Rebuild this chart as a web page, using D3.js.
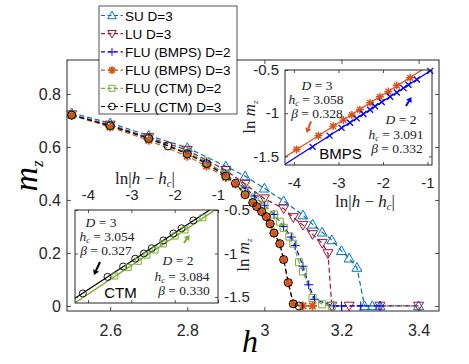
<!DOCTYPE html>
<html><head><meta charset="utf-8">
<script src="https://cdn.jsdelivr.net/npm/d3@7"></script>
<style>body{margin:0;background:#fff} svg{display:block}</style>
</head><body>
<svg id="c" width="469" height="364"></svg>
<script>
// ---------------- DATA ----------------
const legendNames = ["SU D=3", "LU D=3", "FLU (BMPS) D=2", "FLU (BMPS) D=3", "FLU (CTM) D=2", "FLU (CTM) D=3"];

const hSU = [2.5, 2.6, 2.7, 2.8, 2.9, 2.95, 3.0, 3.05, 3.1, 3.125, 3.15, 3.175, 3.2, 3.22, 3.24, 3.26, 3.28, 3.3, 3.4];
const mSU = [0.728, 0.69, 0.643, 0.597, 0.527, 0.49, 0.444, 0.396, 0.343, 0.308, 0.278, 0.249, 0.208, 0.18, 0.145, 0, 0, 0, 0];

const hLU = [2.5, 2.6, 2.7, 2.8, 2.9, 2.95, 3.0, 3.05, 3.075, 3.1, 3.125, 3.15, 3.165, 3.175, 3.22, 3.3, 3.4];
const mLU = [0.722, 0.683, 0.636, 0.588, 0.512, 0.46, 0.405, 0.367, 0.334, 0.305, 0.27, 0.237, 0.198, 0, 0, 0, 0];

const hB2 = [2.5, 2.6, 2.7, 2.8, 2.85, 2.9, 2.95, 2.975, 3.0, 3.025, 3.05, 3.07, 3.08, 3.1, 3.115, 3.13, 3.18, 3.2, 3.25, 3.3];
const mB2 = [0.72, 0.68, 0.633, 0.576, 0.543, 0.495, 0.445, 0.415, 0.38, 0.345, 0.3, 0.26, 0.228, 0.15, 0.08, 0.025, 0, 0, 0, 0];

const hB3 = [2.5, 2.6, 2.7, 2.8, 2.85, 2.9, 2.925, 2.95, 2.97, 2.98, 2.993, 3.005, 3.015, 3.025, 3.04, 3.05, 3.062, 3.075, 3.1, 3.125];
const mB3 = [0.72, 0.675, 0.625, 0.565, 0.528, 0.485, 0.46, 0.42, 0.39, 0.375, 0.356, 0.337, 0.31, 0.275, 0.235, 0.175, 0.088, 0.008, 0, 0];

const hC2 = [2.5, 2.6, 2.7, 2.8, 2.85, 2.9, 2.95, 2.975, 3.0, 3.025, 3.04, 3.05, 3.065, 3.075, 3.09, 3.1, 3.125, 3.15, 3.175];
const mC2 = [0.72, 0.68, 0.633, 0.578, 0.545, 0.495, 0.44, 0.41, 0.38, 0.345, 0.318, 0.295, 0.262, 0.235, 0.165, 0.13, 0.03, 0.006, 0];

const hC3 = [2.5, 2.6, 2.7, 2.75, 2.8, 2.85, 2.9, 2.925, 2.95, 2.97, 2.98, 2.993, 3.005, 3.015, 3.025, 3.04, 3.05, 3.062, 3.075, 3.09];
const mC3 = [0.72, 0.68, 0.632, 0.604, 0.574, 0.537, 0.49, 0.463, 0.42, 0.39, 0.375, 0.356, 0.337, 0.31, 0.275, 0.235, 0.175, 0.088, 0.008, 0];

const xTicks = [2.6, 2.8, 3, 3.2, 3.4];
const xTickLabels = ["2.6", "2.8", "3", "3.2", "3.4"];
const yTicks = [0, 0.2, 0.4, 0.6, 0.8];
const yTickLabels = ["0", "0.2", "0.4", "0.6", "0.8"];

// inset BMPS
const tBM3 = [-3.94, -3.45, -3.12, -2.89, -2.70, -2.52, -2.29, -2.07, -1.88, -1.69, -1.39];
const lBM3 = [-1.42, -1.26, -1.15, -1.08, -1.02, -0.96, -0.88, -0.81, -0.75, -0.68, -0.59];
const tBM2 = [-3.58, -3.20, -2.93, -2.74, -2.59, -2.44, -2.29, -2.18, -2.03, -1.84, -1.69, -1.54, -1.43, -1.24, -0.94];
const lBM2 = [-1.39, -1.26, -1.17, -1.11, -1.06, -1.01, -0.96, -0.92, -0.87, -0.81, -0.76, -0.71, -0.67, -0.61, -0.51];
const fitBM3t = [-4.2, -0.9], fitBM3l = [-1.508, -0.425];
const fitBM2t = [-4.2, -0.9], fitBM2l = [-1.592, -0.497];

// inset CTM
const tCT3 = [-4.12, -3.55, -3.19, -2.91, -2.71, -2.53, -2.26, -2.03, -1.84, -1.57];
const lCT3 = [-1.46, -1.27, -1.15, -1.06, -1.00, -0.94, -0.85, -0.77, -0.71, -0.62];
const tCT2 = [-3.38, -3.07, -2.84, -2.64, -2.45, -2.26, -1.99, -1.76, -1.35];
const lCT2 = [-1.26, -1.16, -1.09, -1.02, -0.96, -0.89, -0.80, -0.73, -0.59];
const fitCT3t = [-4.3, -1.0], fitCT3l = [-1.516, -0.437];
const fitCT2t = [-4.3, -1.0], fitCT2l = [-1.567, -0.478];

const insetXTicks = [-4, -3, -2, -1];
const insetYTicks = [-0.5, -1, -1.5];

// ---------------- STYLE ----------------
const SANS = "'Liberation Sans', Arial, Helvetica, sans-serif";
const SERIF = "'Liberation Serif', 'Times New Roman', serif";
const AX = "#262626";
const C_SU = "#0072BD", C_LU = "#A2142F", C_B2 = "#0000FF", C_B3 = "#D95319", C_C2 = "#77AC30", C_C3 = "#000000";

function markerPath(type, s) {
  switch (type) {
    case 'tri': return `M0,${-s}L${s},${s*0.75}L${-s},${s*0.75}Z`;
    case 'trid': return `M0,${s}L${s},${-s*0.75}L${-s},${-s*0.75}Z`;
    case 'plus': return `M${-s},0H${s}M0,${-s}V${s}`;
    case 'x': { const d = s*0.75; return `M${-d},${-d}L${d},${d}M${-d},${d}L${d},${-d}`; }
    case 'star': { const d = s*0.72; return `M${-s},0H${s}M0,${-s}V${s}M${-d},${-d}L${d},${d}M${-d},${d}L${d},${-d}`; }
    case 'square': return `M${-s},${-s}H${s}V${s}H${-s}Z`;
    case 'circle': return `M${s},0A${s},${s} 0 1,1 ${-s},0A${s},${s} 0 1,1 ${s},0Z`;
  }
}

const svg = d3.select('#c');
svg.append('rect').attr('width', 469).attr('height', 364).attr('fill', '#fff');

// ---------------- MAIN AXES ----------------
const x = d3.scaleLinear().domain([2.488, 3.453]).range([67, 439]);
const y = d3.scaleLinear().domain([-0.019, 0.928]).range([311, 60]);

const series = [
  { h: hSU, m: mSU, color: C_SU, mk: 'tri', s: 5, sw: 1 },
  { h: hLU, m: mLU, color: C_LU, mk: 'trid', s: 5, sw: 1 },
  { h: hB2, m: mB2, color: C_B2, mk: 'plus', s: 4.5, sw: 1 },
  { h: hB3, m: mB3, color: C_B3, mk: 'star', s: 4.5, sw: 1.8 },
  { h: hC2, m: mC2, color: C_C2, mk: 'square', s: 3.5, sw: 1 },
  { h: hC3, m: mC3, color: C_C3, mk: 'circle', s: 4, sw: 1 }
];

function styleAxis(g) {
  g.select('.domain').remove();
  g.selectAll('.tick line').attr('stroke', AX).attr('stroke-width', 0.8);
  g.selectAll('.tick text').attr('fill', AX);
}

const gx = svg.append('g').attr('transform', 'translate(0,311)')
  .call(d3.axisBottom(x).tickValues(xTicks).tickSize(-4).tickPadding(14)
    .tickFormat((d, i) => xTickLabels[i]));
styleAxis(gx);
gx.selectAll('text').attr('font-family', SANS).attr('font-size', 16);
const gxt = svg.append('g').attr('transform', 'translate(0,60)')
  .call(d3.axisTop(x).tickValues(xTicks).tickSize(-4).tickFormat(''));
styleAxis(gxt);

const gy = svg.append('g').attr('transform', 'translate(67,0)')
  .call(d3.axisLeft(y).tickValues(yTicks).tickSize(-4).tickPadding(6)
    .tickFormat((d, i) => yTickLabels[i]));
styleAxis(gy);
gy.selectAll('text').attr('font-family', SANS).attr('font-size', 16);
const gyr = svg.append('g').attr('transform', 'translate(439,0)')
  .call(d3.axisRight(y).tickValues(yTicks).tickSize(-4).tickFormat(''));
styleAxis(gyr);

svg.append('rect').attr('x', 67).attr('y', 60).attr('width', 372).attr('height', 251)
  .attr('fill', 'none').attr('stroke', AX).attr('stroke-width', 1);

// main data
const line = d3.line();
const gData = svg.append('g');
series.forEach(sr => {
  const pts = sr.h.map((h, i) => [x(h), y(sr.m[i])]);
  gData.append('path').attr('d', line(pts)).attr('fill', 'none')
    .attr('stroke', sr.color).attr('stroke-width', 1.2).attr('stroke-dasharray', '5,3');
});
series.forEach(sr => {
  sr.h.forEach((h, i) => {
    gData.append('path').attr('d', markerPath(sr.mk, sr.s))
      .attr('transform', `translate(${x(h)},${y(sr.m[i])})`)
      .attr('fill', 'none').attr('stroke', sr.color).attr('stroke-width', sr.sw);
  });
});

// axis labels
svg.append('text').attr('x', 250).attr('y', 352).attr('text-anchor', 'middle')
  .attr('font-family', SERIF).attr('font-style', 'italic').attr('font-size', 32).attr('fill', '#000').text('h');
const yl = svg.append('text').attr('transform', 'translate(37,176) rotate(-90)').attr('text-anchor', 'middle')
  .attr('font-family', SERIF).attr('font-style', 'italic').attr('font-size', 34).attr('fill', '#000');
yl.append('tspan').text('m');
yl.append('tspan').attr('font-size', 17).attr('dy', 6).text('z');

// ---------------- LEGEND ----------------
const lg = svg.append('g');
lg.append('rect').attr('x', 99).attr('y', 6).attr('width', 138).attr('height', 108)
  .attr('fill', '#fff').attr('stroke', AX).attr('stroke-width', 0.8);
legendNames.forEach((name, i) => {
  const cy = 15.5 + i * 18.2;
  const sr = series[i];
  lg.append('line').attr('x1', 101).attr('x2', 123).attr('y1', cy).attr('y2', cy)
    .attr('stroke', sr.color).attr('stroke-width', 1.2).attr('stroke-dasharray', '4,2.5');
  lg.append('path').attr('d', markerPath(sr.mk, sr.s * 0.85)).attr('transform', `translate(112,${cy})`)
    .attr('fill', 'none').attr('stroke', sr.color).attr('stroke-width', sr.sw);
  lg.append('text').attr('x', 125).attr('y', cy + 5).attr('font-family', SANS).attr('font-size', 13.5)
    .attr('fill', '#000').text(name);
});

// ---------------- helpers for insets ----------------
function insetAxis(g, fn, tr, ticks, showLabels, pad) {
  const a = g.append('g').attr('transform', tr)
    .call(fn.tickValues(ticks).tickSize(-3).tickPadding(pad).tickFormat(showLabels ? (d => String(d)) : ''));
  styleAxis(a);
  a.selectAll('text').attr('font-family', SANS).attr('font-size', 15);
  return a;
}
function mathText(g, cx, by, parts, size, anchor) {
  const t = g.append('text').attr('x', cx).attr('y', by).attr('text-anchor', anchor || 'middle')
    .attr('font-family', SERIF).attr('font-size', size).attr('fill', '#222');
  parts.forEach(p => {
    const ts = t.append('tspan').text(p.t);
    if (p.i) ts.attr('font-style', 'italic');
    if (p.sub) ts.attr('font-size', size * 0.62).attr('dy', size * 0.18);
    if (p.up) ts.attr('dy', -size * 0.18);
  });
  return t;
}
function arrow(g, x1, y1, x2, y2, color) {
  const ang = Math.atan2(y2 - y1, x2 - x1);
  const L = 5, W = 3.2;
  const bx = x2 - L * Math.cos(ang), by = y2 - L * Math.sin(ang);
  g.append('line').attr('x1', x1).attr('y1', y1).attr('x2', bx).attr('y2', by)
    .attr('stroke', color).attr('stroke-width', 2);
  const px = -Math.sin(ang) * W, py = Math.cos(ang) * W;
  g.append('path').attr('d', `M${x2},${y2}L${bx + px},${by + py}L${bx - px},${by - py}Z`).attr('fill', color);
}

// ---------------- INSET 1 (BMPS) ----------------
const i1 = svg.append('g');
const x1s = d3.scaleLinear().domain([-4.2, -0.9]).range([285, 432]);
const y1s = d3.scaleLinear().domain([-1.6, -0.5]).range([165, 70]);
i1.append('rect').attr('x', 285).attr('y', 70).attr('width', 147).attr('height', 95).attr('fill', '#fff');
i1.append('clipPath').attr('id', 'clip1').append('rect').attr('x', 285).attr('y', 70).attr('width', 147).attr('height', 95);
const i1d = i1.append('g').attr('clip-path', 'url(#clip1)');
i1d.append('path').attr('d', line(fitBM3t.map((t, i) => [x1s(t), y1s(fitBM3l[i])])))
  .attr('stroke', C_B3).attr('stroke-width', 1.3).attr('fill', 'none');
i1d.append('path').attr('d', line(fitBM2t.map((t, i) => [x1s(t), y1s(fitBM2l[i])])))
  .attr('stroke', C_B2).attr('stroke-width', 1.3).attr('fill', 'none');
tBM3.forEach((t, i) => i1.append('path').attr('d', markerPath('star', 4))
  .attr('transform', `translate(${x1s(t)},${y1s(lBM3[i])})`).attr('fill', 'none').attr('stroke', C_B3).attr('stroke-width', 1.4));
tBM2.forEach((t, i) => i1.append('path').attr('d', markerPath('x', 4))
  .attr('transform', `translate(${x1s(t)},${y1s(lBM2[i])})`).attr('fill', 'none').attr('stroke', C_B2).attr('stroke-width', 1.3));
insetAxis(i1, d3.axisBottom(x1s), 'translate(0,165)', insetXTicks, true, 12);
insetAxis(i1, d3.axisTop(x1s), 'translate(0,70)', insetXTicks, false, 0);
insetAxis(i1, d3.axisLeft(y1s), 'translate(285,0)', insetYTicks, true, 6);
insetAxis(i1, d3.axisRight(y1s), 'translate(432,0)', insetYTicks, false, 0);
i1.append('rect').attr('x', 285).attr('y', 70).attr('width', 147).attr('height', 95)
  .attr('fill', 'none').attr('stroke', AX).attr('stroke-width', 1);
const FS = 13.5;
mathText(i1, 317, 89.5, [{t: 'D', i: 1}, {t: ' = 3'}], FS);
mathText(i1, 316, 103.5, [{t: 'h', i: 1}, {t: 'c', i: 1, sub: 1}, {t: ' = 3.058', up: 1}], FS);
mathText(i1, 317, 117.5, [{t: 'β', i: 1}, {t: ' = 0.328'}], FS);
mathText(i1, 401, 124, [{t: 'D', i: 1}, {t: ' = 2'}], FS);
mathText(i1, 396, 138.5, [{t: 'h', i: 1}, {t: 'c', i: 1, sub: 1}, {t: ' = 3.091', up: 1}], FS);
mathText(i1, 397, 152.5, [{t: 'β', i: 1}, {t: ' = 0.332'}], FS);
i1.append('text').attr('x', 340.5).attr('y', 159).attr('text-anchor', 'middle').attr('font-family', SANS)
  .attr('font-size', 15).attr('fill', '#000').text('BMPS');
arrow(i1, x1s(-3.616), y1s(-1.096), x1s(-3.717), y1s(-1.229), C_B3);
arrow(i1, x1s(-1.484), y1s(-0.917), x1s(-1.361), y1s(-0.813), C_B2);
// inset1 axis labels
mathText(i1, 365, 207, [{t: 'ln'}, {t: '|'}, {t: 'h', i: 1}, {t: ' − '}, {t: 'h', i: 1}, {t: 'c', i: 1, sub: 1}, {t: '|', up: 1}], 17);
const yl1 = i1.append('text').attr('transform', 'translate(255,117) rotate(-90)').attr('text-anchor', 'middle')
  .attr('font-family', SERIF).attr('font-size', 17).attr('fill', '#222');
yl1.append('tspan').text('ln ');
yl1.append('tspan').attr('font-style', 'italic').text('m');
yl1.append('tspan').attr('font-style', 'italic').attr('font-size', 9).attr('dy', 3).text('z');

// ---------------- INSET 2 (CTM) ----------------
const i2 = svg.append('g');
const x2s = d3.scaleLinear().domain([-4.3, -1.0]).range([75, 218]);
const y2s = d3.scaleLinear().domain([-1.57, -0.5]).range([303, 210]);
i2.append('rect').attr('x', 75).attr('y', 210).attr('width', 143).attr('height', 93).attr('fill', '#fff');
i2.append('clipPath').attr('id', 'clip2').append('rect').attr('x', 75).attr('y', 210).attr('width', 143).attr('height', 93);
const i2d = i2.append('g').attr('clip-path', 'url(#clip2)');
i2d.append('path').attr('d', line(fitCT3t.map((t, i) => [x2s(t), y2s(fitCT3l[i])])))
  .attr('stroke', C_C3).attr('stroke-width', 1.2).attr('fill', 'none');
i2d.append('path').attr('d', line(fitCT2t.map((t, i) => [x2s(t), y2s(fitCT2l[i])])))
  .attr('stroke', C_C2).attr('stroke-width', 1.4).attr('fill', 'none');
tCT3.forEach((t, i) => i2.append('path').attr('d', markerPath('circle', 3.5))
  .attr('transform', `translate(${x2s(t)},${y2s(lCT3[i])})`).attr('fill', 'none').attr('stroke', C_C3).attr('stroke-width', 0.9));
tCT2.forEach((t, i) => i2.append('path').attr('d', markerPath('square', 3))
  .attr('transform', `translate(${x2s(t)},${y2s(lCT2[i])})`).attr('fill', 'none').attr('stroke', C_C2).attr('stroke-width', 1));
insetAxis(i2, d3.axisTop(x2s), 'translate(0,210)', insetXTicks, true, 10);
insetAxis(i2, d3.axisBottom(x2s), 'translate(0,303)', insetXTicks, false, 0);
insetAxis(i2, d3.axisRight(y2s), 'translate(218,0)', insetYTicks, true, 6);
insetAxis(i2, d3.axisLeft(y2s), 'translate(75,0)', insetYTicks, false, 0);
i2.append('rect').attr('x', 75).attr('y', 210).attr('width', 143).attr('height', 93)
  .attr('fill', 'none').attr('stroke', AX).attr('stroke-width', 1);
mathText(i2, 101, 226.5, [{t: 'D', i: 1}, {t: ' = 3'}], FS);
mathText(i2, 107, 241, [{t: 'h', i: 1}, {t: 'c', i: 1, sub: 1}, {t: ' = 3.054', up: 1}], FS);
mathText(i2, 106, 255, [{t: 'β', i: 1}, {t: ' = 0.327'}], FS);
mathText(i2, 178, 265, [{t: 'D', i: 1}, {t: ' = 2'}], FS);
mathText(i2, 182, 280.5, [{t: 'h', i: 1}, {t: 'c', i: 1, sub: 1}, {t: ' = 3.084', up: 1}], FS);
mathText(i2, 184, 294.5, [{t: 'β', i: 1}, {t: ' = 0.330'}], FS);
i2.append('text').attr('x', 120.5).attr('y', 298).attr('text-anchor', 'middle').attr('font-family', SANS)
  .attr('font-size', 15).attr('fill', '#000').text('CTM');
arrow(i2, x2s(-3.723), y2s(-1.098), x2s(-3.862), y2s(-1.248), C_C3);
arrow(i2, x2s(-1.784), y2s(-0.880), x2s(-1.658), y2s(-0.788), C_C2);
mathText(i2, 145, 183.5, [{t: 'ln'}, {t: '|'}, {t: 'h', i: 1}, {t: ' − '}, {t: 'h', i: 1}, {t: 'c', i: 1, sub: 1}, {t: '|', up: 1}], 17);
const yl2 = i2.append('text').attr('transform', 'translate(249,255) rotate(-90)').attr('text-anchor', 'middle')
  .attr('font-family', SERIF).attr('font-size', 17).attr('fill', '#222');
yl2.append('tspan').text('ln ');
yl2.append('tspan').attr('font-style', 'italic').text('m');
yl2.append('tspan').attr('font-style', 'italic').attr('font-size', 9).attr('dy', 3).text('z');
</script>
</body></html>
